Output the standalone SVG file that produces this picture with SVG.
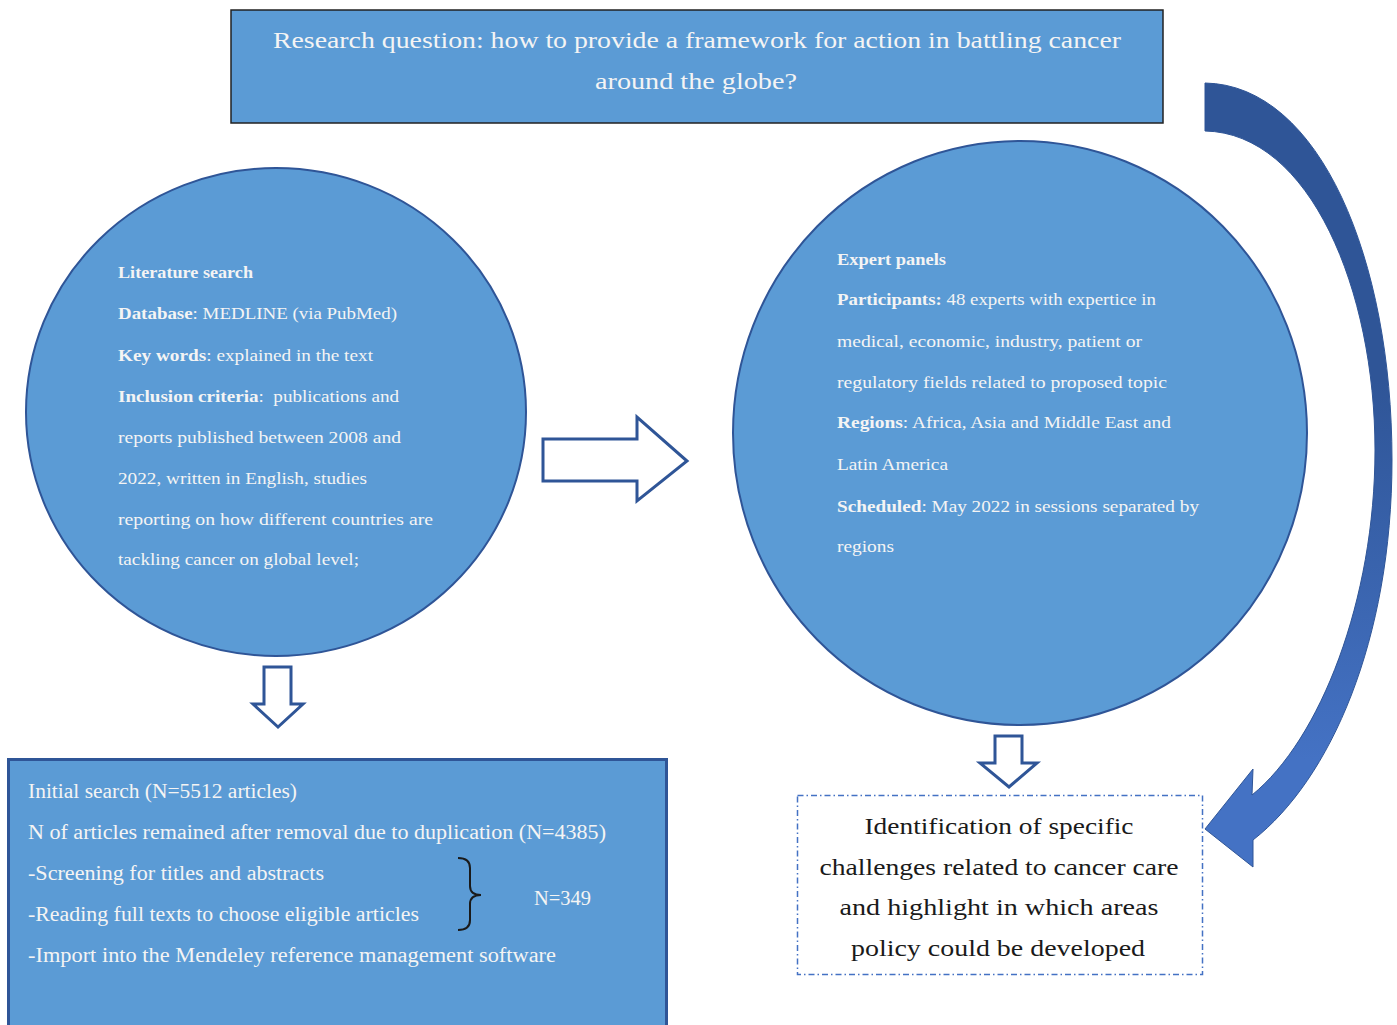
<svg xmlns="http://www.w3.org/2000/svg" width="1397" height="1025" viewBox="0 0 1397 1025">
<defs>
<style>
.node{fill:#5B9BD5;stroke:#2F5597;stroke-width:2}
.wt{font-family:"Liberation Serif","DejaVu Serif",serif;fill:#F4F4F4}
.ct{font-size:17px}
.bt{font-size:20px}
.tt{font-size:24px}
.dk{font-family:"Liberation Serif","DejaVu Serif",serif;fill:#1A1A1A;font-size:24px}
.b{font-weight:bold}
.blk{fill:#FFFFFF;stroke:#2F5597;stroke-width:3;stroke-linejoin:miter}
</style>
<linearGradient id="cg" gradientUnits="userSpaceOnUse" x1="0" y1="380" x2="0" y2="760">
<stop offset="0" stop-color="#2F5597"/>
<stop offset="1" stop-color="#4472C4"/>
</linearGradient>
</defs>
<rect width="1397" height="1025" fill="#FFFFFF"/>

<g id="research-question">
<rect x="231" y="10" width="932" height="113" fill="#5B9BD5" stroke="#222222" stroke-width="1.5"/>
<text class="wt tt" x="697" y="48" text-anchor="middle" textLength="848" lengthAdjust="spacingAndGlyphs">Research question: how to provide a framework for action in battling cancer</text>
<text class="wt tt" x="696" y="89" text-anchor="middle" textLength="202" lengthAdjust="spacingAndGlyphs">around the globe?</text>
</g>

<g id="literature-search">
<ellipse class="node" cx="276" cy="412" rx="250" ry="244"/>
<text class="wt ct b" x="118" y="278" textLength="135" lengthAdjust="spacingAndGlyphs">Literature search</text>
<text class="wt ct" x="118" y="319" textLength="279" lengthAdjust="spacingAndGlyphs"><tspan class="b">Database</tspan>: MEDLINE (via PubMed)</text>
<text class="wt ct" x="118" y="361" textLength="255" lengthAdjust="spacingAndGlyphs"><tspan class="b">Key words</tspan>: explained in the text</text>
<text class="wt ct" x="118" y="402" textLength="281" lengthAdjust="spacingAndGlyphs" xml:space="preserve"><tspan class="b">Inclusion criteria</tspan>:  publications and</text>
<text class="wt ct" x="118" y="443" textLength="283" lengthAdjust="spacingAndGlyphs">reports published between 2008 and</text>
<text class="wt ct" x="118" y="484" textLength="249" lengthAdjust="spacingAndGlyphs">2022, written in English, studies</text>
<text class="wt ct" x="118" y="525" textLength="315" lengthAdjust="spacingAndGlyphs">reporting on how different countries are</text>
<text class="wt ct" x="118" y="565" textLength="241" lengthAdjust="spacingAndGlyphs">tackling cancer on global level;</text>
</g>

<g id="expert-panels">
<ellipse class="node" cx="1020" cy="433" rx="287" ry="292"/>
<text class="wt ct b" x="837" y="265" textLength="109" lengthAdjust="spacingAndGlyphs">Expert panels</text>
<text class="wt ct" x="837" y="305" textLength="319" lengthAdjust="spacingAndGlyphs"><tspan class="b">Participants:</tspan> 48 experts with expertice in</text>
<text class="wt ct" x="837" y="347" textLength="305" lengthAdjust="spacingAndGlyphs">medical, economic, industry, patient or</text>
<text class="wt ct" x="837" y="388" textLength="330" lengthAdjust="spacingAndGlyphs">regulatory fields related to proposed topic</text>
<text class="wt ct" x="837" y="428" textLength="334" lengthAdjust="spacingAndGlyphs"><tspan class="b">Regions</tspan>: Africa, Asia and Middle East and</text>
<text class="wt ct" x="837" y="470" textLength="111" lengthAdjust="spacingAndGlyphs">Latin America</text>
<text class="wt ct" x="837" y="512" textLength="362" lengthAdjust="spacingAndGlyphs"><tspan class="b">Scheduled</tspan>: May 2022 in sessions separated by</text>
<text class="wt ct" x="837" y="552" textLength="57" lengthAdjust="spacingAndGlyphs">regions</text>
</g>

<g id="search-results">
<rect x="8.5" y="759.5" width="658" height="290" fill="#5B9BD5" stroke="#2F5597" stroke-width="3"/>
<text class="wt bt" x="28" y="798" textLength="269" lengthAdjust="spacingAndGlyphs">Initial search (N=5512 articles)</text>
<text class="wt bt" x="28" y="839" textLength="578" lengthAdjust="spacingAndGlyphs">N of articles remained after removal due to duplication (N=4385)</text>
<text class="wt bt" x="28" y="880" textLength="296" lengthAdjust="spacingAndGlyphs">-Screening for titles and abstracts</text>
<text class="wt bt" x="28" y="921" textLength="391" lengthAdjust="spacingAndGlyphs">-Reading full texts to choose eligible articles</text>
<text class="wt bt" x="28" y="962" textLength="528" lengthAdjust="spacingAndGlyphs">-Import into the Mendeley reference management software</text>
<path d="M458,858 Q470,858 470,868 L470,886 Q470,895 481,895 Q470,895 470,904 L470,920 Q470,930 458,930" fill="none" stroke="#1A1A1A" stroke-width="2"/>
<text class="wt bt" x="534" y="905" textLength="57" lengthAdjust="spacingAndGlyphs">N=349</text>
</g>

<g id="identification">
<rect x="797.5" y="795.5" width="405" height="179" fill="#FFFFFF" stroke="#4472C4" stroke-width="1.5" stroke-dasharray="6 3 1.5 3"/>
<text class="dk" x="999" y="834" text-anchor="middle" textLength="269" lengthAdjust="spacingAndGlyphs">Identification of specific</text>
<text class="dk" x="999" y="875" text-anchor="middle" textLength="359" lengthAdjust="spacingAndGlyphs">challenges related to cancer care</text>
<text class="dk" x="999" y="915" text-anchor="middle" textLength="319" lengthAdjust="spacingAndGlyphs">and highlight in which areas</text>
<text class="dk" x="998" y="956" text-anchor="middle" textLength="294" lengthAdjust="spacingAndGlyphs">policy could be developed</text>
</g>

<g id="connectors">
<polygon class="blk" points="543,439 637,439 637,417 687,461 637,501 637,481 543,481"/>
<polygon class="blk" points="264,667 291,667 291,704 303,704 278,727 253,704 264,704"/>
<polygon class="blk" points="995,736 1022,736 1022,763 1037,763 1009,787 980,763 995,763"/>
<path d="M1205,83 C1320,85 1392,260 1392,460 C1392,640 1330,780 1253,840 L1253,867 L1205,829 L1253,769 L1252,795 C1320,740 1375,600 1375,450 C1375,290 1310,133 1205,131 Z" fill="url(#cg)" stroke="#2F5597" stroke-width="1"/>
</g>
</svg>
